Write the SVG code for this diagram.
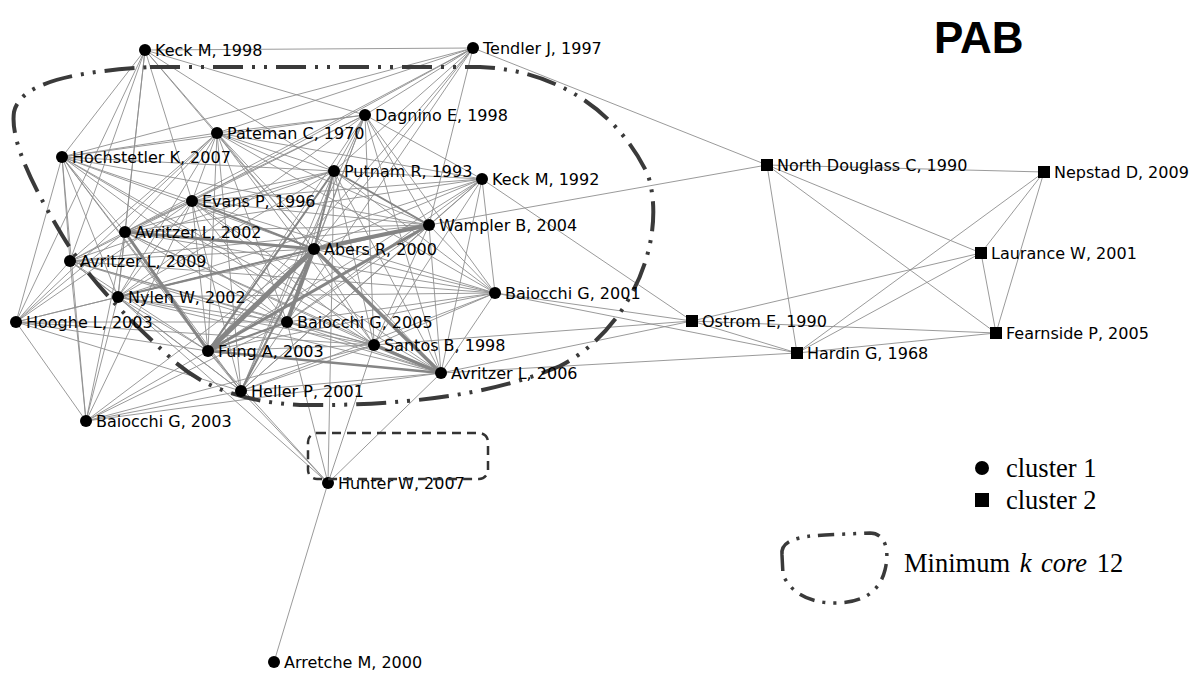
<svg xmlns="http://www.w3.org/2000/svg" width="1199" height="673" viewBox="0 0 1199 673">
  <style>
    .edge { fill: none; stroke: #8e8e8e; stroke-width: 0.9; }
    .thick { fill: none; stroke: #858585; stroke-linecap: round; }
    .node { fill: #000; }
    .lbl { font-family: "DejaVu Sans", Verdana, sans-serif; font-size: 16px; fill: #000; }
    .leg { font-family: "Liberation Serif", "Times New Roman", serif; font-size: 26.5px; fill: #000; }
    .core { fill: none; stroke: #3a3a3a; stroke-width: 4; stroke-dasharray: 30 9 3 9 3 9; }
  </style>
  <rect width="1199" height="673" fill="#fff"/>

  <!-- links -->
  <g id="connectors">
    <path class="edge" d="M62 157L217 133M62 157L365 115M62 157L334 171M62 157L192 201M62 157L429 225M62 157L125 232M62 157L314 249M62 157L70 261M62 157L118 297M62 157L287 322M62 157L374 345M62 157L208 351M62 157L441 373M62 157L241 391"/>
    <path class="edge" d="M217 133L365 115M217 133L334 171M217 133L482 179M217 133L192 201M217 133L429 225M217 133L125 232M217 133L314 249M217 133L70 261M217 133L495 293M217 133L118 297M217 133L287 322M217 133L374 345M217 133L208 351M217 133L441 373M217 133L241 391"/>
    <path class="edge" d="M365 115L334 171M365 115L482 179M365 115L192 201M365 115L429 225M365 115L125 232M365 115L314 249M365 115L495 293M365 115L118 297M365 115L287 322M365 115L374 345M365 115L208 351M365 115L441 373M365 115L241 391"/>
    <path class="edge" d="M334 171L482 179M334 171L192 201M334 171L429 225M334 171L125 232M334 171L314 249M334 171L70 261M334 171L495 293M334 171L118 297M334 171L287 322M334 171L374 345M334 171L208 351M334 171L441 373M334 171L241 391"/>
    <path class="edge" d="M482 179L192 201M482 179L429 225M482 179L125 232M482 179L314 249M482 179L495 293M482 179L118 297M482 179L287 322M482 179L374 345M482 179L208 351M482 179L441 373M482 179L241 391"/>
    <path class="edge" d="M192 201L429 225M192 201L125 232M192 201L314 249M192 201L70 261M192 201L495 293M192 201L118 297M192 201L287 322M192 201L374 345M192 201L208 351M192 201L441 373M192 201L241 391"/>
    <path class="edge" d="M429 225L125 232M429 225L314 249M429 225L70 261M429 225L495 293M429 225L118 297M429 225L287 322M429 225L374 345M429 225L208 351M429 225L441 373M429 225L241 391"/>
    <path class="edge" d="M125 232L314 249M125 232L70 261M125 232L495 293M125 232L118 297M125 232L287 322M125 232L374 345M125 232L208 351M125 232L441 373M125 232L241 391"/>
    <path class="edge" d="M314 249L70 261M314 249L495 293M314 249L118 297M314 249L287 322M314 249L374 345M314 249L208 351M314 249L441 373M314 249L241 391"/>
    <path class="edge" d="M70 261L495 293M70 261L118 297M70 261L287 322M70 261L374 345M70 261L208 351M70 261L441 373M70 261L241 391"/>
    <path class="edge" d="M495 293L118 297M495 293L287 322M495 293L374 345M495 293L208 351M495 293L441 373M495 293L241 391"/>
    <path class="edge" d="M118 297L287 322M118 297L374 345M118 297L208 351M118 297L441 373M118 297L241 391"/>
    <path class="edge" d="M287 322L374 345M287 322L208 351M287 322L441 373M287 322L241 391M374 345L208 351M374 345L441 373M374 345L241 391M208 351L441 373M208 351L241 391M441 373L241 391"/>
    <path class="edge" d="M145 50L473 48M145 50L62 157M145 50L70 261M145 50L16 322M145 50L125 232M145 50L192 201M145 50L217 133M145 50L334 171M145 50L365 115M145 50L118 297M145 50L314 249"/>
    <path class="edge" d="M473 48L365 115M473 48L217 133M473 48L334 171M473 48L314 249M473 48L429 225M473 48L192 201M473 48L125 232M473 48L287 322M473 48L62 157M473 48L208 351M473 48L767 165"/>
    <path class="edge" d="M16 322L62 157M16 322L86 421M16 322L70 261M16 322L118 297M16 322L125 232M16 322L208 351M16 322L241 391M16 322L192 201M16 322L217 133M16 322L314 249M16 322L287 322M16 322L374 345"/>
    <path class="edge" d="M86 421L62 157M86 421L70 261M86 421L118 297M86 421L125 232M86 421L208 351M86 421L241 391M86 421L314 249M86 421L441 373M86 421L287 322M86 421L374 345M86 421L192 201"/>
    <path class="edge" d="M328 483L208 351M328 483L241 391M328 483L287 322M328 483L334 171M328 483L374 345M328 483L441 373M328 483L274 662M328 483L118 297"/>
    <path class="edge" d="M429 225L767 165M482 179L692 321M495 293L692 321M374 345L692 321M441 373L797 353M495 293L797 353M441 373L692 321"/>
    <path class="edge" d="M767 165L1044 172M767 165L797 353M767 165L981 253M767 165L996 333M1044 172L981 253M1044 172L996 333M1044 172L797 353M981 253L996 333M981 253L797 353M981 253L692 321M692 321L797 353M692 321L996 333M797 353L996 333"/>
    <!-- heavier ties -->
    <path class="thick" stroke-width="5" d="M314 249L208 351"/>
    <path class="thick" stroke-width="4" d="M314 249L287 322M314 249L429 225"/>
    <path class="thick" stroke-width="3.5" d="M314 249L441 373M374 345L441 373"/>
    <path class="thick" stroke-width="3" d="M314 249L125 232M208 351L125 232M208 351L429 225"/>
    <path class="thick" stroke-width="2.5" d="M208 351L441 373"/>
    <path class="thick" stroke-width="2" d="M314 249L118 297M314 249L192 201M314 249L334 171M208 351L287 322M314 249L241 391M429 225L334 171M208 351L334 171"/>
  </g>

  <!-- k-core outline -->
  <path class="core" d="M150 67L480 67C560 70 620 115 648 175C668 240 630 330 560 366C490 396 400 406 300 405C245 402 205 388 175 362C135 325 92 285 62 235C32 185 10 140 14 112C20 85 65 72 150 67Z"/>

  <!-- cluster 1 -->
  <g id="keck-1998"><circle class="node" cx="145" cy="50" r="6"/><text class="lbl" x="155" y="56">Keck M, 1998</text></g>
  <g id="tendler-1997"><circle class="node" cx="473" cy="48" r="6"/><text class="lbl" x="483" y="54">Tendler J, 1997</text></g>
  <g id="dagnino-1998"><circle class="node" cx="365" cy="115" r="6"/><text class="lbl" x="375" y="121">Dagnino E, 1998</text></g>
  <g id="pateman-1970"><circle class="node" cx="217" cy="133" r="6"/><text class="lbl" x="227" y="139">Pateman C, 1970</text></g>
  <g id="hochstetler-2007"><circle class="node" cx="62" cy="157" r="6"/><text class="lbl" x="72" y="163">Hochstetler K, 2007</text></g>
  <g id="putnam-1993"><circle class="node" cx="334" cy="171" r="6"/><text class="lbl" x="344" y="177">Putnam R, 1993</text></g>
  <g id="keck-1992"><circle class="node" cx="482" cy="179" r="6"/><text class="lbl" x="492" y="185">Keck M, 1992</text></g>
  <g id="evans-1996"><circle class="node" cx="192" cy="201" r="6"/><text class="lbl" x="202" y="207">Evans P, 1996</text></g>
  <g id="wampler-2004"><circle class="node" cx="429" cy="225" r="6"/><text class="lbl" x="439" y="231">Wampler B, 2004</text></g>
  <g id="avritzer-2002"><circle class="node" cx="125" cy="232" r="6"/><text class="lbl" x="135" y="238">Avritzer L, 2002</text></g>
  <g id="abers-2000"><circle class="node" cx="314" cy="249" r="6"/><text class="lbl" x="324" y="255">Abers R, 2000</text></g>
  <g id="avritzer-2009"><circle class="node" cx="70" cy="261" r="6"/><text class="lbl" x="80" y="267">Avritzer L, 2009</text></g>
  <g id="baiocchi-2001"><circle class="node" cx="495" cy="293" r="6"/><text class="lbl" x="505" y="299">Baiocchi G, 2001</text></g>
  <g id="nylen-2002"><circle class="node" cx="118" cy="297" r="6"/><text class="lbl" x="128" y="303">Nylen W, 2002</text></g>
  <g id="hooghe-2003"><circle class="node" cx="16" cy="322" r="6"/><text class="lbl" x="26" y="328">Hooghe L, 2003</text></g>
  <g id="baiocchi-2005"><circle class="node" cx="287" cy="322" r="6"/><text class="lbl" x="297" y="328">Baiocchi G, 2005</text></g>
  <g id="santos-1998"><circle class="node" cx="374" cy="345" r="6"/><text class="lbl" x="384" y="351">Santos B, 1998</text></g>
  <g id="fung-2003"><circle class="node" cx="208" cy="351" r="6"/><text class="lbl" x="218" y="357">Fung A, 2003</text></g>
  <g id="avritzer-2006"><circle class="node" cx="441" cy="373" r="6"/><text class="lbl" x="451" y="379">Avritzer L, 2006</text></g>
  <g id="heller-2001"><circle class="node" cx="241" cy="391" r="6"/><text class="lbl" x="251" y="397">Heller P, 2001</text></g>
  <g id="baiocchi-2003"><circle class="node" cx="86" cy="421" r="6"/><text class="lbl" x="96" y="427">Baiocchi G, 2003</text></g>
  <g id="hunter-2007"><circle class="node" cx="328" cy="483" r="6"/><text class="lbl" x="338" y="489">Hunter W, 2007</text></g>
  <g id="arretche-2000"><circle class="node" cx="274" cy="662" r="6"/><text class="lbl" x="284" y="668">Arretche M, 2000</text></g>

  <!-- cluster 2 -->
  <g id="north-1990"><rect class="node" x="761" y="159" width="12" height="12"/><text class="lbl" x="777" y="171">North Douglass C, 1990</text></g>
  <g id="nepstad-2009"><rect class="node" x="1038" y="166" width="12" height="12"/><text class="lbl" x="1054" y="178">Nepstad D, 2009</text></g>
  <g id="laurance-2001"><rect class="node" x="975" y="247" width="12" height="12"/><text class="lbl" x="991" y="259">Laurance W, 2001</text></g>
  <g id="ostrom-1990"><rect class="node" x="686" y="315" width="12" height="12"/><text class="lbl" x="702" y="327">Ostrom E, 1990</text></g>
  <g id="fearnside-2005"><rect class="node" x="990" y="327" width="12" height="12"/><text class="lbl" x="1006" y="339">Fearnside P, 2005</text></g>
  <g id="hardin-1968"><rect class="node" x="791" y="347" width="12" height="12"/><text class="lbl" x="807" y="359">Hardin G, 1968</text></g>

  <!-- dashed frame around Hunter -->
  <rect x="308" y="433" width="180" height="46" rx="9" fill="none" stroke="#333" stroke-width="2.5" stroke-dasharray="9 6"/>

  <!-- title -->
  <text x="934" y="53" font-family="Liberation Sans, Arial, sans-serif" font-size="44" font-weight="bold" fill="#000">PAB</text>

  <!-- legend -->
  <g id="legend">
    <circle cx="982" cy="468" r="7" fill="#000"/>
    <text class="leg" x="1006" y="477">cluster 1</text>
    <rect x="975" y="493" width="14" height="14" fill="#000"/>
    <text class="leg" x="1006" y="509">cluster 2</text>
    <path fill="none" stroke="#3a3a3a" stroke-width="3.5" stroke-dasharray="16 8 3 8 3 8" d="M782 555C780 540 800 536 825 535L870 533C885 533 890 550 885 570C880 590 865 603 835 603C805 603 790 590 783 575Z"/>
    <text class="leg" x="904" y="572" word-spacing="3">Minimum <tspan font-style="italic">k core</tspan> 12</text>
  </g>
</svg>
